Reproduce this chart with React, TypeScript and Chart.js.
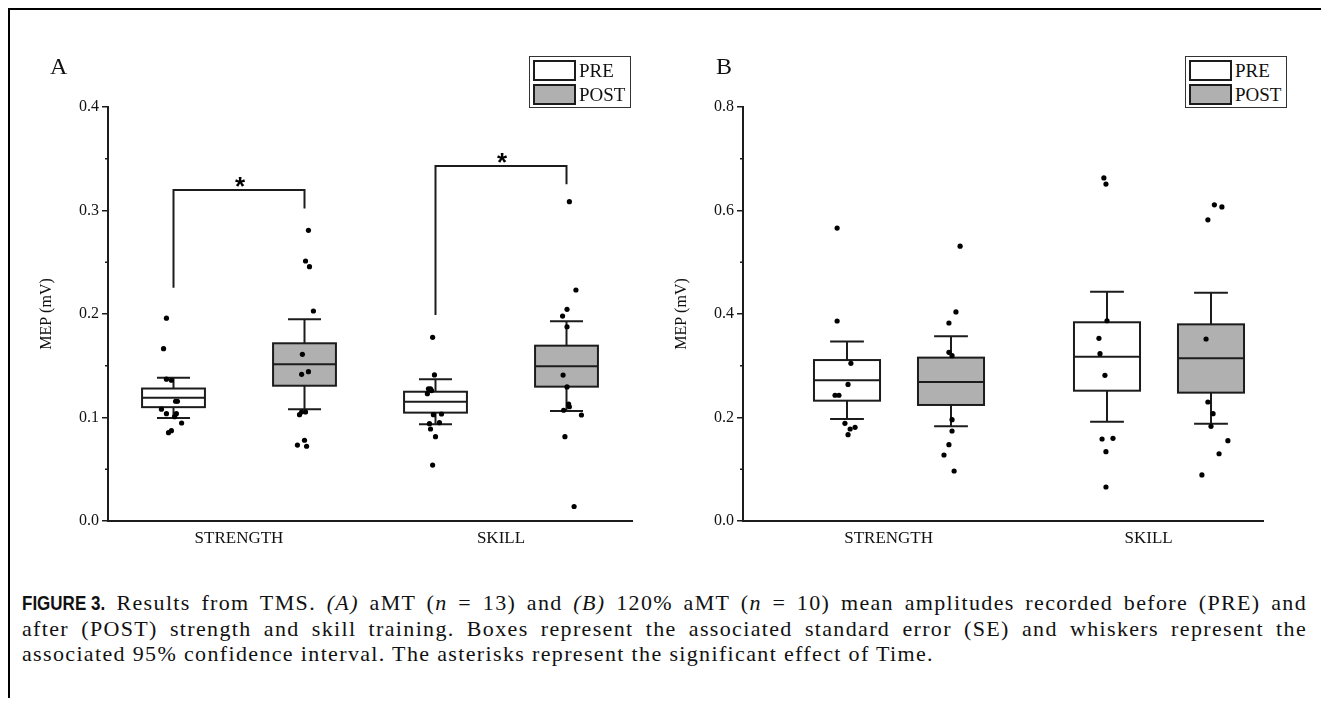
import React, { useEffect, useRef } from "react";
import { Chart, registerables } from "chart.js";
Chart.register(...registerables);

// ---------- shared labels ----------
const categories = ["STRENGTH", "SKILL"];
const legendLabels = ["PRE", "POST"];
const yTitle = "MEP (mV)";

// ---------- Panel A (aMT, n = 13) ----------
const aYTicks = [0, 0.1, 0.2, 0.3, 0.4];
const aYMinor = [0.05, 0.15, 0.25, 0.35];
// box stats: [lower SE, mean, upper SE, lower CI, upper CI]
const aBoxPreStrength = [0.11, 0.119, 0.128, 0.0995, 0.1385];
const aBoxPostStrength = [0.1307, 0.1514, 0.1717, 0.1079, 0.1949];
const aBoxPreSkill = [0.1047, 0.1153, 0.1249, 0.0934, 0.1369];
const aBoxPostSkill = [0.1298, 0.1495, 0.1694, 0.1063, 0.193];
// individual values
const aPreStrength = [0.196, 0.1665, 0.137, 0.136, 0.1157, 0.1157, 0.108, 0.1037, 0.1037, 0.1008, 0.0947, 0.0853, 0.0873];
const aPreStrengthJitter = [-0.027, -0.038, -0.027, -0.008, 0.008, 0.015, -0.046, -0.027, 0.011, 0.004, 0.031, -0.019, -0.008];
const aPostStrength = [0.2808, 0.2512, 0.2457, 0.2029, 0.161, 0.1443, 0.1417, 0.1053, 0.1053, 0.1027, 0.078, 0.0734, 0.0722];
const aPostStrengthJitter = [0.015, 0.004, 0.019, 0.034, -0.008, 0.015, -0.011, -0.011, 0.004, -0.019, 0.0, -0.027, 0.008];
const aPreSkill = [0.1775, 0.1411, 0.1278, 0.1278, 0.126, 0.123, 0.1027, 0.1034, 0.094, 0.095, 0.0889, 0.0815, 0.054];
const aPreSkillJitter = [-0.011, -0.004, -0.027, -0.019, -0.015, -0.031, -0.008, 0.023, -0.023, 0.015, -0.019, 0.0, -0.011];
const aPostSkill = [0.3085, 0.2232, 0.2045, 0.198, 0.1877, 0.141, 0.1295, 0.113, 0.1104, 0.107, 0.1024, 0.0815, 0.014];
const aPostSkillJitter = [0.011, 0.036, 0.002, -0.015, 0.002, -0.013, 0.002, 0.008, 0.011, -0.011, 0.057, -0.006, 0.029];
// significance brackets: [top, left end, right end]
const aBracketStrength = [0.3198, 0.2254, 0.302];
const aBracketSkill = [0.343, 0.199, 0.3253];

// ---------- Panel B (120% aMT, n = 10) ----------
const bYTicks = [0, 0.2, 0.4, 0.6, 0.8];
const bYMinor = [0.1, 0.3, 0.5, 0.7];
const bBoxPreStrength = [0.2325, 0.272, 0.311, 0.197, 0.347];
const bBoxPostStrength = [0.2242, 0.2686, 0.3157, 0.183, 0.357];
const bBoxPreSkill = [0.2518, 0.3175, 0.384, 0.192, 0.443];
const bBoxPostSkill = [0.248, 0.3143, 0.38, 0.188, 0.441];
const bPreStrength = [0.566, 0.3865, 0.3047, 0.264, 0.243, 0.243, 0.1888, 0.181, 0.1778, 0.1668];
const bPreStrengthJitter = [-0.038, -0.038, 0.015, 0.004, -0.046, -0.031, -0.008, 0.031, 0.012, 0.004];
const bPostStrength = [0.531, 0.404, 0.3826, 0.326, 0.3195, 0.1958, 0.1739, 0.1475, 0.1275, 0.0966];
const bPostStrengthJitter = [0.035, 0.019, -0.008, -0.008, 0.004, 0.004, 0.004, -0.008, -0.027, 0.012];
const bPreSkill = [0.663, 0.651, 0.387, 0.353, 0.3233, 0.2815, 0.1597, 0.1585, 0.134, 0.0657];
const bPreSkillJitter = [-0.012, -0.004, 0.0, -0.031, -0.027, -0.008, 0.023, -0.019, -0.004, -0.004];
const bPostSkill = [0.611, 0.607, 0.582, 0.3517, 0.23, 0.2074, 0.183, 0.1552, 0.13, 0.089];
const bPostSkillJitter = [0.013, 0.042, -0.012, -0.019, -0.012, 0.008, 0.0, 0.065, 0.031, -0.035];

// ---------- styles ----------
const SERIF = "'Liberation Serif', 'Times New Roman', serif";
const INK = "#1c1c1c";
const PRE_FILL = "#ffffff";
const POST_FILL = "#b0b0b0";

type Group = { pos: number; stats: number[]; values: number[]; jitter: number[]; fill: string };
type Bracket = { from: number; to: number; v: number[] };
type Spec = {
  xMin: number; xMax: number; yMax: number; tickPos: number[]; yTicks: number[]; yMinor: number[];
  boxWidth: number; capWidth: number; groups: Group[]; brackets: Bracket[]; padRight: number;
};

function makeSpec(
  centers: number[], off: number, boxes: number[][], vals: number[][], jit: number[][],
  extra: Partial<Spec>
): Spec {
  const groups: Group[] = [];
  for (let c = 0; c < 2; c++) {
    for (let k = 0; k < 2; k++) {
      const idx = c * 2 + k;
      groups.push({
        pos: centers[c] + (k === 0 ? -off : off),
        stats: boxes[idx],
        values: vals[idx],
        jitter: jit[idx],
        fill: k === 0 ? PRE_FILL : POST_FILL,
      });
    }
  }
  return { ...(extra as Spec), groups };
}

const specA: Spec = makeSpec(
  [0.5, 1.5], 0.25,
  [aBoxPreStrength, aBoxPostStrength, aBoxPreSkill, aBoxPostSkill],
  [aPreStrength, aPostStrength, aPreSkill, aPostSkill],
  [aPreStrengthJitter, aPostStrengthJitter, aPreSkillJitter, aPostSkillJitter],
  {
    xMin: 0, xMax: 2, yMax: 0.4, tickPos: [0.5, 1.5], yTicks: aYTicks, yMinor: aYMinor,
    boxWidth: 0.24, capWidth: 0.126, padRight: 28,
    brackets: [
      { from: 0, to: 1, v: aBracketStrength },
      { from: 2, to: 3, v: aBracketSkill },
    ],
  }
);

const specB: Spec = makeSpec(
  [0.5, 1.5], 0.2,
  [bBoxPreStrength, bBoxPostStrength, bBoxPreSkill, bBoxPostSkill],
  [bPreStrength, bPostStrength, bPreSkill, bPostSkill],
  [bPreStrengthJitter, bPostStrengthJitter, bPreSkillJitter, bPostSkillJitter],
  {
    xMin: -0.1, xMax: 1.9, yMax: 0.8, tickPos: [0.46, 1.46], yTicks: bYTicks, yMinor: bYMinor,
    boxWidth: 0.254, capWidth: 0.13, padRight: 32, brackets: [],
  }
);

function makeConfig(spec: Spec): any {
  const datasets = spec.groups.map((g) => ({
    type: "scatter",
    data: g.values.map((v, i) => ({ x: g.pos + g.jitter[i], y: v })),
    pointRadius: 2.6,
    pointHoverRadius: 2.6,
    pointBackgroundColor: "#000",
    pointBorderWidth: 0,
    showLine: false,
  }));

  const boxPlugin = {
    id: "boxes",
    beforeDatasetsDraw(chart: any) {
      const { ctx, scales } = chart;
      const x = scales.x, y = scales.y;
      const py = (v: number) => y.getPixelForValue(v);
      ctx.save();
      ctx.strokeStyle = INK;
      ctx.lineWidth = 2;
      ctx.lineCap = "butt";
      const line = (x1: number, y1: number, x2: number, y2: number) => {
        ctx.beginPath(); ctx.moveTo(x1, y1); ctx.lineTo(x2, y2); ctx.stroke();
      };
      for (const g of spec.groups) {
        const [q1, med, q3, lo, hi] = g.stats;
        const xc = x.getPixelForValue(g.pos);
        const xl = x.getPixelForValue(g.pos - spec.boxWidth / 2);
        const xr = x.getPixelForValue(g.pos + spec.boxWidth / 2);
        const cl = x.getPixelForValue(g.pos - spec.capWidth / 2);
        const cr = x.getPixelForValue(g.pos + spec.capWidth / 2);
        line(xc, py(hi), xc, py(q3));
        line(xc, py(q1), xc, py(lo));
        line(cl, py(hi), cr, py(hi));
        line(cl, py(lo), cr, py(lo));
        ctx.fillStyle = g.fill;
        ctx.fillRect(xl, py(q3), xr - xl, py(q1) - py(q3));
        ctx.strokeRect(xl, py(q3), xr - xl, py(q1) - py(q3));
        line(xl, py(med), xr, py(med));
      }
      for (const b of spec.brackets) {
        const [top, lBottom, rBottom] = b.v;
        const x1 = x.getPixelForValue(spec.groups[b.from].pos);
        const x2 = x.getPixelForValue(spec.groups[b.to].pos);
        ctx.beginPath();
        ctx.moveTo(x1, py(lBottom));
        ctx.lineTo(x1, py(top));
        ctx.lineTo(x2, py(top));
        ctx.lineTo(x2, py(rBottom));
        ctx.stroke();
        ctx.fillStyle = "#000";
        ctx.font = "bold 26px 'Liberation Sans', Arial, sans-serif";
        ctx.textAlign = "center";
        ctx.textBaseline = "alphabetic";
        ctx.fillText("*", (x1 + x2) / 2 + 1, py(top) + 5);
      }
      // minor ticks on y axis
      const ax = chart.chartArea.left;
      ctx.lineWidth = 1.5;
      for (const m of spec.yMinor) line(ax - 3, py(m), ax, py(m));
      ctx.restore();
    },
  };

  return {
    type: "scatter",
    data: { datasets },
    options: {
      responsive: false,
      animation: false,
      events: [],
      layout: { padding: { left: 0, top: 67, right: spec.padRight, bottom: 9 } },
      plugins: { legend: { display: false }, tooltip: { enabled: false } },
      scales: {
        x: {
          type: "linear",
          min: spec.xMin,
          max: spec.xMax,
          afterBuildTicks: (s: any) => { s.ticks = spec.tickPos.map((v) => ({ value: v })); },
          afterFit: (s: any) => { s.height = 40; },
          ticks: {
            autoSkip: false,
            maxRotation: 0,
            padding: 7,
            color: "#111",
            font: { family: SERIF, size: 17 },
            callback: (_v: any, i: number) => categories[i],
          },
          grid: { display: false, drawTicks: false, tickLength: 0 },
          border: { display: true, color: INK, width: 2 },
        },
        y: {
          min: 0,
          max: spec.yMax,
          afterBuildTicks: (s: any) => { s.ticks = spec.yTicks.map((v) => ({ value: v })); },
          afterFit: (s: any) => { s.width = 88; },
          ticks: {
            padding: 3,
            color: "#111",
            font: { family: SERIF, size: 16 },
            callback: (v: any) => Number(v).toFixed(1),
          },
          grid: { drawOnChartArea: false, drawTicks: true, tickLength: 6, color: INK, lineWidth: 1.5 },
          border: { display: true, color: INK, width: 2 },
          title: {
            display: true,
            text: yTitle,
            color: "#111",
            font: { family: SERIF, size: 16 },
            padding: { top: 17, bottom: 0 },
          },
        },
      },
    },
    plugins: [boxPlugin],
  };
}

function Panel({ spec, left, top }: { spec: Spec; left: number; top: number }) {
  const ref = useRef<HTMLCanvasElement>(null);
  useEffect(() => {
    const chart = new Chart(ref.current as HTMLCanvasElement, makeConfig(spec));
    return () => chart.destroy();
  }, []);
  return (
    <canvas
      ref={ref}
      width={640}
      height={530}
      style={{ position: "absolute", left, top, width: 640, height: 530 }}
    />
  );
}

function Legend({ left, top }: { left: number; top: number }) {
  const sw = (t: number, fill: string) => (
    <div style={{ position: "absolute", left: 3, top: t, width: 43, height: 21, boxSizing: "border-box", border: `2px solid ${INK}`, background: fill }} />
  );
  const txt = (t: number, s: string) => (
    <div style={{ position: "absolute", left: 49, top: t, height: 21, lineHeight: "21px", fontFamily: SERIF, fontSize: 19, color: "#111", whiteSpace: "nowrap" }}>{s}</div>
  );
  return (
    <div style={{ position: "absolute", left, top, width: 102, height: 52, boxSizing: "border-box", border: "1.5px solid #333", background: "#fff" }}>
      {sw(2.5, PRE_FILL)}
      {sw(26.5, POST_FILL)}
      {txt(2.5, legendLabels[0])}
      {txt(26.5, legendLabels[1])}
    </div>
  );
}

export default function App() {
  useEffect(() => {
    document.documentElement.style.overflow = "hidden";
    document.body.style.overflow = "hidden";
  }, []);
  const just: React.CSSProperties = { textAlign: "justify", textAlignLast: "justify" as any, height: 25.5 };
  return (
    <div style={{ position: "relative", width: 1313, height: 690, background: "#fff" }}>
      <div style={{ position: "absolute", left: -1, top: -1, width: 1320, height: 699, boxSizing: "border-box", borderTop: "3px solid #000", borderLeft: "3px solid #000", borderRight: "3px solid #000" }} />
      <Panel spec={specA} left={12} top={32} />
      <Panel spec={specB} left={647} top={32} />
      <div style={{ position: "absolute", left: 42, top: 46, fontFamily: SERIF, fontSize: 24, lineHeight: "24px", color: "#111" }}>A</div>
      <div style={{ position: "absolute", left: 708, top: 46, fontFamily: SERIF, fontSize: 24, lineHeight: "24px", color: "#111" }}>B</div>
      <Legend left={521} top={48} />
      <Legend left={1177} top={48} />
      <div style={{ position: "absolute", left: 14, top: 582, width: 1285, fontFamily: SERIF, fontSize: 22, letterSpacing: "1.35px", lineHeight: "25.5px", color: "#111" }}>
        <div style={just}>
          <b style={{ display: "inline-block", transform: "scaleX(0.85)", transformOrigin: "left center", marginRight: -14, fontFamily: "'Liberation Sans', Arial, sans-serif", letterSpacing: 0, fontSize: 20 }}>FIGURE 3.</b> Results from TMS. <i>(A)</i> aMT (<i>n</i> = 13) and <i>(B)</i> 120% aMT (<i>n</i> = 10) mean amplitudes recorded before (PRE) and
        </div>
        <div style={just}>
          after (POST) strength and skill training. Boxes represent the associated standard error (SE) and whiskers represent the
        </div>
        <div style={{ height: 25.5, whiteSpace: "nowrap" }}>
          associated 95% confidence interval. The asterisks represent the significant effect of Time.
        </div>
      </div>
    </div>
  );
}
